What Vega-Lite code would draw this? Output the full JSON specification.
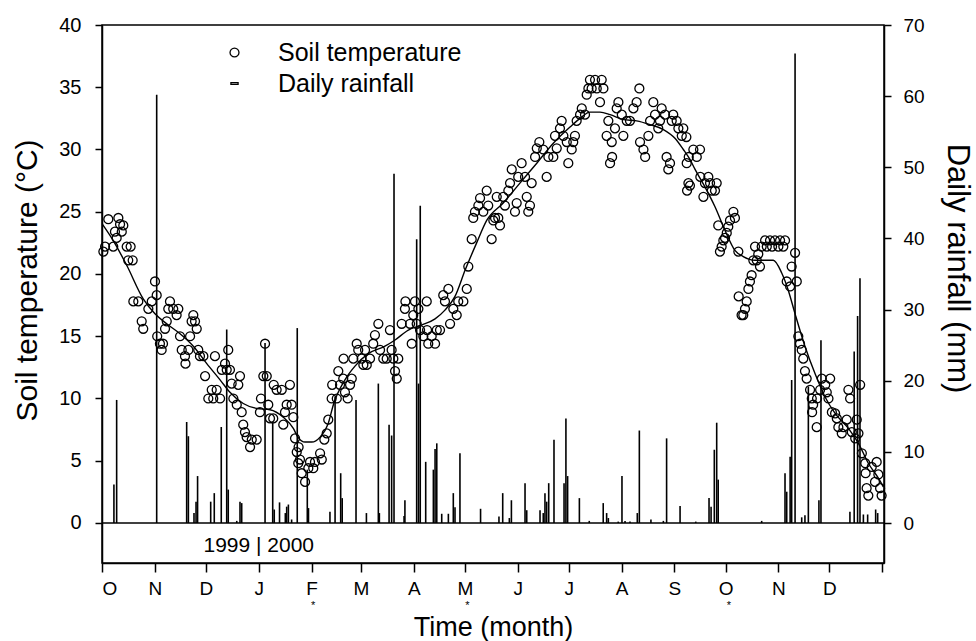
{
  "$schema": "https://vega.github.io/schema/vega-lite/v6.json",
  "width": 782,
  "height": 538,
  "autosize": {"type": "none"},
  "padding": {"left": 102, "top": 25, "right": 92, "bottom": 78},
  "background": "white",
  "config": {
    "font": "Liberation Sans",
    "view": {"stroke": "black", "strokeWidth": 1.5},
    "axis": {"domainColor": "black", "domainWidth": 1.5, "tickColor": "black", "tickWidth": 1.5, "labelColor": "black", "titleColor": "black", "titleFontWeight": "normal", "grid": false, "labelFont": "Liberation Sans", "titleFont": "Liberation Sans"},
    "legend": {"labelFont": "Liberation Sans"}
  },
  "datasets": {
    "temp": [
      {"d":0.8,"t":21.8},{"d":1.8,"t":22.2},{"d":3.7,"t":24.4},{"d":6.6,"t":22.2},{"d":7.6,"t":23.4},{"d":8.6,"t":22.9},{"d":9.6,"t":24.5},{"d":10.6,"t":24.0},{"d":11.6,"t":23.4},{"d":12.5,"t":23.9},
      {"d":14.5,"t":22.2},{"d":15.4,"t":21.1},{"d":16.8,"t":22.2},{"d":18.0,"t":21.1},{"d":18.4,"t":17.8},{"d":21.3,"t":17.8},{"d":23.3,"t":16.2},{"d":24.2,"t":15.6},{"d":27.2,"t":17.2},{"d":29.2,"t":17.8},
      {"d":31.1,"t":19.4},{"d":32.1,"t":18.3},{"d":32.4,"t":15.0},{"d":34.0,"t":14.4},{"d":35.0,"t":13.9},{"d":35.8,"t":14.4},{"d":37.0,"t":15.6},{"d":38.0,"t":16.2},{"d":38.9,"t":17.2},{"d":39.9,"t":17.8},
      {"d":41.8,"t":17.2},{"d":43.8,"t":16.7},{"d":44.8,"t":17.2},{"d":45.8,"t":15.0},{"d":46.8,"t":13.9},{"d":48.7,"t":13.4},{"d":49.0,"t":12.8},{"d":50.7,"t":13.9},{"d":51.7,"t":15.0},{"d":52.6,"t":16.2},
      {"d":53.6,"t":16.7},{"d":54.6,"t":16.2},{"d":55.6,"t":15.6},{"d":56.5,"t":13.9},{"d":57.5,"t":13.4},{"d":59.5,"t":13.4},{"d":60.5,"t":11.8},{"d":62.4,"t":10.0},{"d":64.4,"t":10.7},{"d":65.3,"t":10.0},
      {"d":66.3,"t":13.4},{"d":67.3,"t":10.7},{"d":69.3,"t":10.0},{"d":70.3,"t":12.3},{"d":72.2,"t":12.8},{"d":73.2,"t":12.3},{"d":74.1,"t":13.9},{"d":75.1,"t":12.3},{"d":76.1,"t":11.2},{"d":77.1,"t":10.0},
      {"d":79.1,"t":9.5},{"d":80.0,"t":11.1},{"d":81.0,"t":11.8},{"d":82.0,"t":8.9},{"d":82.9,"t":7.9},{"d":83.9,"t":7.3},{"d":84.9,"t":6.9},{"d":86.9,"t":6.1},{"d":87.9,"t":6.7},{"d":90.8,"t":6.7},
      {"d":92.7,"t":8.9},{"d":93.3,"t":10.0},{"d":94.7,"t":11.8},{"d":95.7,"t":14.4},{"d":96.7,"t":11.8},{"d":97.6,"t":9.5},{"d":98.6,"t":8.4},{"d":100.5,"t":8.4},{"d":100.8,"t":11.1},{"d":102.5,"t":10.7},
      {"d":105.5,"t":10.7},{"d":106.4,"t":7.9},{"d":107.4,"t":8.9},{"d":108.4,"t":9.5},{"d":110.3,"t":11.1},{"d":111.3,"t":9.5},{"d":112.3,"t":8.5},{"d":113.3,"t":6.8},{"d":114.3,"t":5.7},{"d":115.2,"t":4.8},
      {"d":115.4,"t":6.1},{"d":116.2,"t":5.1},{"d":117.2,"t":4.0},{"d":119.2,"t":3.3},{"d":121.1,"t":4.4},{"d":122.1,"t":4.9},{"d":124.0,"t":4.4},{"d":125.0,"t":4.9},{"d":128.0,"t":5.6},{"d":129.0,"t":5.1},
      {"d":130.5,"t":6.7},{"d":131.9,"t":7.2},{"d":132.8,"t":8.3},{"d":134.8,"t":10.0},{"d":135.1,"t":11.1},{"d":137.8,"t":10.0},{"d":138.7,"t":12.2},{"d":139.7,"t":11.1},{"d":141.6,"t":11.6},{"d":141.8,"t":13.2},
      {"d":142.6,"t":10.5},{"d":144.2,"t":10.0},{"d":145.6,"t":11.1},{"d":146.6,"t":11.6},{"d":147.5,"t":13.2},{"d":149.5,"t":14.4},{"d":150.4,"t":13.9},{"d":152.4,"t":13.2},{"d":153.4,"t":12.7},{"d":154.4,"t":13.9},
      {"d":155.4,"t":12.7},{"d":157.3,"t":13.2},{"d":159.2,"t":14.4},{"d":160.2,"t":15.1},{"d":162.2,"t":16.0},{"d":163.2,"t":13.9},{"d":165.1,"t":13.2},{"d":167.1,"t":13.2},{"d":169.0,"t":15.5},{"d":170.0,"t":13.9},
      {"d":171.0,"t":13.2},{"d":172.0,"t":12.2},{"d":173.0,"t":11.6},{"d":173.9,"t":13.2},{"d":175.9,"t":16.0},{"d":177.8,"t":17.2},{"d":178.1,"t":17.8},{"d":180.8,"t":16.0},{"d":181.8,"t":14.4},{"d":182.7,"t":16.7},
      {"d":183.7,"t":17.8},{"d":184.7,"t":16.0},{"d":185.7,"t":17.2},{"d":186.7,"t":15.5},{"d":188.6,"t":15.0},{"d":190.6,"t":17.8},{"d":190.8,"t":15.5},{"d":191.5,"t":14.4},{"d":193.5,"t":15.0},{"d":195.5,"t":14.4},
      {"d":196.5,"t":15.5},{"d":198.4,"t":15.5},{"d":200.3,"t":18.3},{"d":201.3,"t":17.8},{"d":203.3,"t":18.8},{"d":204.3,"t":16.0},{"d":206.2,"t":17.2},{"d":208.2,"t":16.7},{"d":209.1,"t":17.8},{"d":212.1,"t":17.8},
      {"d":214.1,"t":18.8},{"d":215.0,"t":20.6},{"d":217.0,"t":22.8},{"d":217.9,"t":24.5},{"d":218.9,"t":25.0},{"d":220.9,"t":25.5},{"d":221.9,"t":26.1},{"d":223.8,"t":25.0},{"d":225.8,"t":26.7},{"d":226.7,"t":25.5},
      {"d":228.7,"t":22.8},{"d":229.7,"t":24.3},{"d":230.7,"t":24.5},{"d":231.7,"t":26.2},{"d":232.6,"t":24.5},{"d":233.6,"t":23.9},{"d":235.5,"t":26.2},{"d":236.5,"t":25.5},{"d":238.5,"t":26.7},{"d":239.5,"t":27.3},
      {"d":240.5,"t":28.4},{"d":242.4,"t":25.0},{"d":243.4,"t":25.7},{"d":244.3,"t":27.8},{"d":246.3,"t":28.9},{"d":248.3,"t":27.8},{"d":249.3,"t":26.2},{"d":250.2,"t":25.0},{"d":251.2,"t":25.5},{"d":252.2,"t":27.3},
      {"d":254.2,"t":29.4},{"d":255.2,"t":30.1},{"d":256.7,"t":30.6},{"d":259.0,"t":30.0},{"d":261.0,"t":27.8},{"d":262.0,"t":29.4},{"d":264.9,"t":29.4},{"d":265.9,"t":31.1},{"d":266.9,"t":30.1},{"d":268.8,"t":31.7},
      {"d":269.8,"t":32.3},{"d":270.8,"t":31.1},{"d":272.8,"t":30.6},{"d":273.7,"t":28.9},{"d":275.7,"t":30.0},{"d":276.6,"t":30.6},{"d":277.6,"t":31.1},{"d":278.6,"t":32.3},{"d":280.6,"t":32.8},{"d":281.6,"t":33.3},
      {"d":283.5,"t":32.8},{"d":284.5,"t":34.4},{"d":285.5,"t":34.9},{"d":286.4,"t":35.6},{"d":287.4,"t":34.9},{"d":289.4,"t":35.6},{"d":290.4,"t":34.9},{"d":292.3,"t":33.8},{"d":293.3,"t":35.6},{"d":294.3,"t":34.9},
      {"d":296.2,"t":31.1},{"d":297.2,"t":32.3},{"d":298.2,"t":28.9},{"d":299.2,"t":30.6},{"d":299.4,"t":29.4},{"d":301.1,"t":31.7},{"d":302.1,"t":33.3},{"d":303.1,"t":33.8},{"d":305.1,"t":32.8},{"d":306.0,"t":31.1},
      {"d":308.0,"t":32.3},{"d":309.9,"t":32.3},{"d":311.9,"t":33.3},{"d":313.8,"t":33.8},{"d":315.4,"t":34.9},{"d":315.8,"t":30.6},{"d":317.8,"t":30.0},{"d":318.8,"t":29.4},{"d":320.7,"t":31.1},{"d":321.7,"t":32.3},
      {"d":323.6,"t":33.8},{"d":324.6,"t":32.8},{"d":326.5,"t":31.7},{"d":327.5,"t":32.3},{"d":328.5,"t":33.3},{"d":330.5,"t":32.8},{"d":331.4,"t":29.4},{"d":332.4,"t":28.4},{"d":333.4,"t":28.9},{"d":334.4,"t":32.3},
      {"d":335.3,"t":32.8},{"d":337.3,"t":32.3},{"d":338.3,"t":31.7},{"d":340.3,"t":31.1},{"d":341.2,"t":31.7},{"d":343.0,"t":31.0},{"d":343.2,"t":28.9},{"d":343.4,"t":26.7},{"d":344.2,"t":27.3},{"d":344.4,"t":29.4},
      {"d":345.1,"t":27.1},{"d":347.1,"t":30.0},{"d":349.1,"t":29.4},{"d":351.0,"t":30.0},{"d":351.2,"t":27.8},{"d":353.0,"t":26.2},{"d":353.9,"t":27.3},{"d":355.9,"t":27.8},{"d":356.9,"t":27.3},{"d":357.9,"t":26.7},
      {"d":359.8,"t":26.7},{"d":360.8,"t":27.3},{"d":361.7,"t":23.9},{"d":362.7,"t":21.8},{"d":363.7,"t":22.2},{"d":364.7,"t":22.7},{"d":365.7,"t":22.9},{"d":366.7,"t":23.3},{"d":367.6,"t":23.8},{"d":368.6,"t":24.3},
      {"d":370.6,"t":25.0},{"d":371.5,"t":24.5},{"d":373.5,"t":21.8},{"d":373.7,"t":18.2},{"d":375.4,"t":16.7},{"d":376.4,"t":16.7},{"d":377.4,"t":17.2},{"d":378.4,"t":17.8},{"d":379.4,"t":18.8},{"d":380.3,"t":19.4},
      {"d":381.3,"t":19.9},{"d":382.3,"t":21.1},{"d":383.3,"t":22.2},{"d":384.3,"t":21.1},{"d":385.2,"t":21.6},{"d":386.2,"t":20.6},{"d":387.2,"t":22.2},{"d":389.2,"t":22.7},{"d":390.2,"t":22.2},{"d":392.1,"t":22.7},
      {"d":393.3,"t":22.2},{"d":395.0,"t":22.7},{"d":397.0,"t":22.2},{"d":398.0,"t":22.7},{"d":399.9,"t":22.2},{"d":400.9,"t":22.7},{"d":401.9,"t":19.4},{"d":403.9,"t":19.0},{"d":404.8,"t":20.6},{"d":406.8,"t":21.7},
      {"d":407.8,"t":19.4},{"d":408.7,"t":15.0},{"d":409.7,"t":14.4},{"d":410.7,"t":13.9},{"d":411.6,"t":13.2},{"d":412.6,"t":12.2},{"d":413.6,"t":11.6},{"d":415.6,"t":10.7},{"d":416.6,"t":10.0},{"d":416.8,"t":8.9},
      {"d":417.4,"t":9.5},{"d":419.5,"t":7.7},{"d":419.7,"t":10.0},{"d":421.5,"t":10.7},{"d":422.5,"t":11.6},{"d":424.5,"t":11.1},{"d":425.4,"t":10.5},{"d":426.4,"t":10.0},{"d":427.4,"t":11.6},{"d":428.4,"t":8.9},
      {"d":430.3,"t":8.8},{"d":431.3,"t":8.4},{"d":432.2,"t":7.7},{"d":434.2,"t":7.2},{"d":435.2,"t":7.7},{"d":437.1,"t":8.3},{"d":438.1,"t":10.7},{"d":439.1,"t":10.0},{"d":440.1,"t":7.3},{"d":442.1,"t":6.8},
      {"d":443.0,"t":8.3},{"d":444.0,"t":7.2},{"d":445.0,"t":11.1},{"d":446.0,"t":5.6},{"d":448.0,"t":4.8},{"d":448.2,"t":4.0},{"d":448.8,"t":2.8},{"d":449.8,"t":2.2},{"d":451.8,"t":4.5},{"d":453.7,"t":3.3},
      {"d":454.7,"t":4.9},{"d":455.7,"t":3.9},{"d":456.7,"t":2.8},{"d":457.6,"t":2.2}
    ],
    "fit": [
      {"d":0.2,"t":24.0},{"d":6.5,"t":22.7},{"d":14.5,"t":20.7},{"d":24.2,"t":18.0},{"d":31.1,"t":16.8},{"d":38.0,"t":16.0},{"d":45.8,"t":15.2},{"d":53.6,"t":14.2},{"d":61.5,"t":12.8},{"d":69.3,"t":11.5},
      {"d":75.1,"t":10.5},{"d":82.9,"t":9.6},{"d":90.8,"t":9.2},{"d":98.6,"t":9.1},{"d":106.4,"t":8.5},{"d":112.3,"t":7.6},{"d":115.0,"t":6.9},{"d":119.2,"t":6.5},{"d":123.1,"t":6.5},{"d":128.0,"t":6.9},
      {"d":132.8,"t":8.0},{"d":135.8,"t":9.5},{"d":142.6,"t":11.5},{"d":148.5,"t":12.6},{"d":156.3,"t":13.6},{"d":166.1,"t":14.2},{"d":172.0,"t":14.7},{"d":179.8,"t":15.5},{"d":187.6,"t":15.9},{"d":195.5,"t":16.4},
      {"d":201.3,"t":17.1},{"d":207.2,"t":18.2},{"d":213.1,"t":20.3},{"d":219.9,"t":22.5},{"d":225.8,"t":24.3},{"d":235.5,"t":25.7},{"d":245.3,"t":27.3},{"d":255.2,"t":28.9},{"d":264.9,"t":30.5},{"d":274.7,"t":31.8},
      {"d":280.6,"t":32.5},{"d":286.4,"t":33.0},{"d":292.3,"t":33.0},{"d":298.2,"t":32.8},{"d":306.0,"t":32.4},{"d":313.8,"t":32.3},{"d":321.7,"t":32.0},{"d":329.5,"t":31.6},{"d":336.3,"t":30.9},{"d":341.2,"t":30.0},
      {"d":345.1,"t":29.2},{"d":348.1,"t":28.4},{"d":353.9,"t":27.0},{"d":359.8,"t":25.4},{"d":365.7,"t":23.5},{"d":371.5,"t":21.9},{"d":376.4,"t":21.4},{"d":383.3,"t":21.1},{"d":394.0,"t":21.1},{"d":398.9,"t":20.1},
      {"d":402.8,"t":18.7},{"d":406.8,"t":16.8},{"d":412.6,"t":14.2},{"d":418.5,"t":12.0},{"d":424.5,"t":10.1},{"d":430.3,"t":8.8},{"d":438.1,"t":7.6},{"d":444.0,"t":6.4},{"d":449.8,"t":4.8},{"d":455.7,"t":3.6},
      {"d":458.6,"t":2.9}
    ],
    "rain": [
      {"d":7.0,"r":5.4},{"d":8.6,"r":17.3},{"d":32.1,"r":60.2},{"d":49.7,"r":14.2},{"d":50.7,"r":12.2},{"d":54.0,"r":1.4},{"d":55.2,"r":3.0},{"d":56.1,"r":6.6},{"d":63.8,"r":3.0},{"d":65.9,"r":4.2},
      {"d":70.0,"r":13.5},{"d":73.2,"r":27.2},{"d":74.1,"r":4.7},{"d":79.1,"r":0.3},{"d":81.0,"r":3.0},{"d":82.0,"r":2.8},{"d":95.7,"r":25.3},{"d":100.2,"r":14.2},{"d":101.1,"r":1.9},{"d":104.2,"r":2.9},
      {"d":107.6,"r":1.4},{"d":108.4,"r":2.3},{"d":109.4,"r":2.6},{"d":111.3,"r":0.5},{"d":114.6,"r":27.4},{"d":120.5,"r":7.5},{"d":121.2,"r":2.1},{"d":133.8,"r":1.6},{"d":136.8,"r":17.8},{"d":140.1,"r":7.0},
      {"d":141.0,"r":3.5},{"d":149.1,"r":17.3},{"d":155.2,"r":1.4},{"d":162.2,"r":19.6},{"d":162.8,"r":1.4},{"d":168.5,"r":13.8},{"d":170.0,"r":12.3},{"d":171.4,"r":49.1},{"d":177.3,"r":1.0},{"d":177.8,"r":3.2},
      {"d":184.7,"r":39.9},{"d":185.8,"r":19.6},{"d":186.8,"r":44.6},{"d":190.0,"r":8.6},{"d":194.5,"r":7.5},{"d":195.5,"r":10.4},{"d":196.5,"r":11.2},{"d":199.4,"r":1.3},{"d":203.3,"r":1.3},{"d":206.2,"r":4.2},
      {"d":207.2,"r":2.2},{"d":210.1,"r":9.8},{"d":222.2,"r":2.0},{"d":233.0,"r":0.9},{"d":235.2,"r":4.2},{"d":239.1,"r":0.7},{"d":240.3,"r":3.2},{"d":248.3,"r":5.6},{"d":249.3,"r":1.8},{"d":257.1,"r":1.8},
      {"d":259.0,"r":1.4},{"d":260.0,"r":4.2},{"d":261.0,"r":3.0},{"d":262.2,"r":5.6},{"d":265.3,"r":11.7},{"d":271.2,"r":5.6},{"d":272.3,"r":14.7},{"d":273.3,"r":6.6},{"d":280.2,"r":3.5},{"d":286.0,"r":0.3},
      {"d":294.2,"r":2.8},{"d":296.2,"r":1.4},{"d":297.2,"r":0.7},{"d":303.0,"r":0.2},{"d":305.2,"r":6.6},{"d":307.0,"r":0.3},{"d":309.9,"r":0.2},{"d":314.2,"r":1.4},{"d":315.4,"r":13.0},{"d":322.2,"r":0.5},
      {"d":329.5,"r":0.3},{"d":331.4,"r":11.9},{"d":339.3,"r":2.4},{"d":348.5,"r":0.2},{"d":356.3,"r":3.5},{"d":357.5,"r":2.3},{"d":359.4,"r":10.3},{"d":360.8,"r":14.1},{"d":361.7,"r":6.1},{"d":387.2,"r":0.3},
      {"d":400.9,"r":7.0},{"d":401.9,"r":4.4},{"d":403.9,"r":9.3},{"d":404.8,"r":20.1},{"d":406.8,"r":66.0},{"d":410.7,"r":0.8},{"d":412.6,"r":1.1},{"d":414.6,"r":19.2},{"d":420.8,"r":3.2},{"d":422.0,"r":25.7},
      {"d":439.0,"r":1.6},{"d":441.5,"r":24.1},{"d":443.5,"r":29.1},{"d":444.9,"r":34.4},{"d":446.9,"r":1.2},{"d":449.4,"r":1.2},{"d":454.1,"r":1.9},{"d":455.3,"r":1.4}
    ],
    "stars": [
      {"d":124,"label":"*"},{"d":214.5,"label":"*"},{"d":368,"label":"*"}
    ],
    "years": [
      {"d":92,"label":"1999 | 2000"}
    ]
  },
  "layer": [
    {
      "layer": [
        {
          "data": {"values": [{}]},
          "mark": {"type": "rule", "color": "black", "strokeWidth": 1.5},
          "encoding": {
            "y": {"datum": 0, "type": "quantitative"}
          }
        },
        {
          "data": {"name": "fit"},
          "mark": {"type": "line", "color": "black", "strokeWidth": 1.4, "interpolate": "monotone"},
          "encoding": {
            "x": {"field": "d", "type": "quantitative"},
            "y": {"field": "t", "type": "quantitative"}
          }
        },
        {
          "data": {"name": "temp"},
          "mark": {"type": "point", "filled": false, "color": "black", "size": 80, "strokeWidth": 1.3, "opacity": 1},
          "encoding": {
            "x": {
              "field": "d", "type": "quantitative",
              "scale": {"domain": [0, 459], "nice": false, "zero": false},
              "axis": {
                "values": [0, 31, 61, 92, 123, 152, 183, 213, 244, 274, 305, 336, 366, 397, 427, 458],
                "labelExpr": "['O','N','D','J','F','M','A','M','J','J','A','S','O','N','D',''][indexof([0,31,61,92,123,152,183,213,244,274,305,336,366,397,427,458], datum.value)]",
                "tickSize": 9,
                "labelFontSize": 19,
                "labelBaseline": "alphabetic",
                "labelPadding": 22,
                "labelFlush": true,
                "labelOverlap": false,
                "title": "Time (month)",
                "titleFontSize": 27,
                "titleX": 391,
                "titleY": 72,
                "titleAlign": "center",
                "titleBaseline": "alphabetic"
              }
            },
            "y": {
              "field": "t", "type": "quantitative",
              "scale": {"domain": [-3.213, 40], "nice": false, "zero": false},
              "axis": {
                "orient": "left",
                "values": [0, 5, 10, 15, 20, 25, 30, 35, 40],
                "tickSize": 7,
                "labelFontSize": 20,
                "labelPadding": 14,
                "labelOverlap": false,
                "title": "Soil temperature (°C)",
                "titleFontSize": 30,
                "titleX": -66,
                "titleY": 255,
                "titleAngle": -90,
                "titleAlign": "center",
                "titleBaseline": "alphabetic"
              }
            },
            "shape": {
              "datum": "Soil temperature",
              "type": "nominal",
              "scale": {"domain": ["Soil temperature", "Daily rainfall"], "range": ["circle", "M-0.8,-0.18L0.8,-0.18L0.8,0.18L-0.8,0.18Z"]},
              "legend": {
                "orient": "none",
                "legendX": 120,
                "legendY": 15,
                "title": null,
                "padding": 0,
                "labelFontSize": 25,
                "labelColor": "black",
                "labelLimit": 0,
                "labelOffset": 31,
                "rowPadding": 5,
                "symbolSize": 80,
                "symbolStrokeWidth": 1.3,
                "symbolStrokeColor": "black",
                "symbolFillColor": "transparent"
              }
            }
          }
        },
        {
          "data": {"name": "years"},
          "mark": {"type": "text", "fontSize": 21, "color": "black", "align": "center", "baseline": "alphabetic"},
          "encoding": {
            "x": {"field": "d", "type": "quantitative"},
            "y": {"datum": -2.33, "type": "quantitative"},
            "text": {"field": "label"}
          }
        },
        {
          "data": {"name": "stars"},
          "mark": {"type": "text", "fontSize": 11, "color": "black", "align": "center", "baseline": "alphabetic"},
          "encoding": {
            "x": {"field": "d", "type": "quantitative"},
            "y": {"datum": -6.87, "type": "quantitative"},
            "text": {"field": "label"}
          }
        }
      ]
    },
    {
      "data": {"name": "rain"},
      "mark": {"type": "rule", "color": "black", "strokeWidth": 1.6},
      "encoding": {
        "x": {"field": "d", "type": "quantitative"},
        "y": {
          "field": "r", "type": "quantitative",
          "scale": {"domain": [-5.62, 70], "nice": false, "zero": false},
          "axis": {
            "orient": "right",
            "values": [0, 10, 20, 30, 40, 50, 60, 70],
            "tickSize": 7,
            "labelFontSize": 19,
            "labelPadding": 12,
            "labelOverlap": false,
            "title": "Daily rainfall (mm)",
            "titleFontSize": 31,
            "titleX": 63,
            "titleY": 243,
            "titleAngle": 90,
            "titleAlign": "center",
            "titleBaseline": "alphabetic"
          }
        },
        "y2": {"datum": 0}
      }
    }
  ],
  "resolve": {"scale": {"y": "independent"}}
}
